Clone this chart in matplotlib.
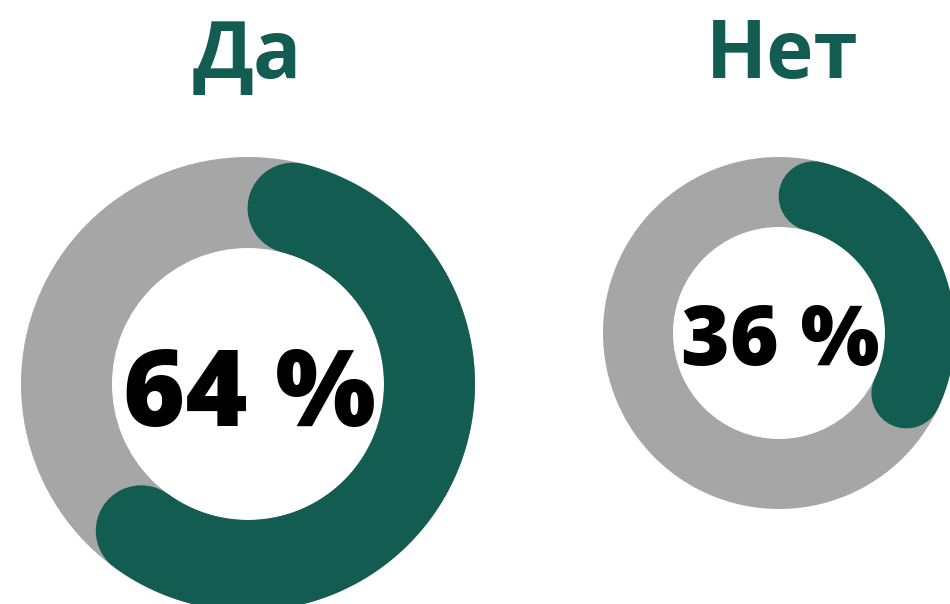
import numpy as np
import matplotlib
matplotlib.use("Agg")
import matplotlib.pyplot as plt
from matplotlib.patches import Wedge

# data
labels = ["Да", "Нет"]
values = [64, 36]
value_texts = ["64 %", "36 %"]

green = "#135C51"
grey = "#A6A6A6"

plt.rcParams["font.family"] = ["Open Sans", "DejaVu Sans"]

fig = plt.figure(figsize=(9.5, 6.04), dpi=100)
ax = fig.add_axes([0, 0, 1, 1])
ax.set_xlim(0, 950)
ax.set_ylim(604, 0)
ax.set_aspect("equal")
ax.axis("off")

# layout for each donut: centre x, centre y, outer r, ring width, value font size, baseline
donuts = [
    dict(cx=248, cy=384, r_out=227, w=91, fs=76.5, base=426),
    dict(cx=779, cy=333, r_out=176, w=70, fs=60, base=365),
]
title_x = [247, 782]
px2pt = 72 / 100

for lab, val, txt, d, tx in zip(labels, values, value_texts, donuts, title_x):
    cx, cy, r_out, w = d["cx"], d["cy"], d["r_out"], d["w"]
    # grey full ring
    ax.add_patch(Wedge((cx, cy), r_out, 0, 360, width=w, color=grey, lw=0))
    # green arc with round caps, clockwise from top
    r_mid = r_out - w / 2
    cap = np.degrees((w / 2) / r_mid)
    theta = np.radians(np.linspace(cap, val * 3.6 - cap, 300))
    ax.plot(cx + r_mid * np.sin(theta), cy - r_mid * np.cos(theta),
            color=green, lw=w * px2pt, solid_capstyle="round")
    # value in the middle
    ax.text(cx + 1, d["base"], txt, ha="center", va="baseline",
            fontsize=d["fs"], fontweight="heavy", color="black")
    # title
    ax.text(tx, 78, lab, ha="center", va="baseline",
            fontsize=57.5, fontweight="bold", color=green)

fig.savefig("out.png", dpi=100)
